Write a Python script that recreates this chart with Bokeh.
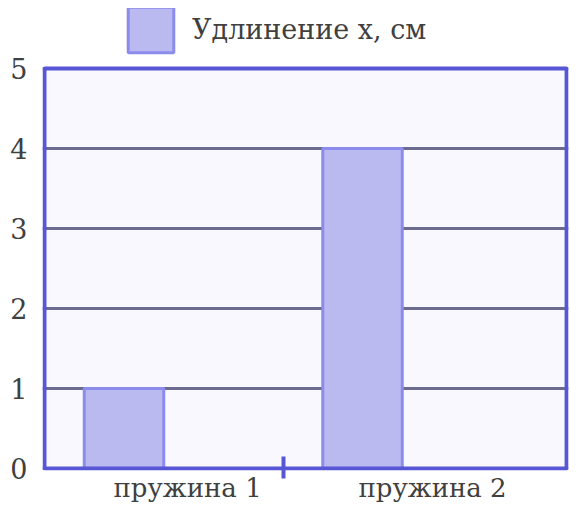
from bokeh.plotting import figure
from bokeh.models import (ColumnDataSource, FixedTicker, Legend, LegendItem, Range1d,
                          BoxAnnotation)
from bokeh.transform import dodge
from bokeh.embed import file_html
from bokeh.resources import INLINE

# ---- data ----
categories = ["пружина 1", "пружина 2"]
elongation = [1, 4]
y_ticks = [0, 1, 2, 3, 4, 5]
series_name = "Удлинение x, см"

# ---- layout helpers ----
idx = list(range(len(categories)))
bar_offset = 1 / 3
bar_width = 1 / 3
label_pos = [0.6, 1.627]
boundary_ticks = [1]
x_box_end = 2.189          # right edge of the framed area
y_box_end = y_ticks[-1]

FONT = "DejaVu Serif"
TEXT = "#404040"
BORDER = "#5656d6"

source = ColumnDataSource(dict(idx=idx, val=elongation))

p = figure(
    width=578, height=516,
    x_range=Range1d(-0.0084, 2.197), y_range=Range1d(-0.025, 5.75),
    output_backend="svg", toolbar_location=None,
    min_border_left=42, min_border_right=10,
    min_border_top=8, min_border_bottom=46,
)
p.background_fill_color = "white"
p.border_fill_color = "white"
p.outline_line_color = None

# plot-area background and frame border
p.add_layout(BoxAnnotation(left=0, right=x_box_end, bottom=0, top=y_box_end,
                           fill_color="#f8f8fe", fill_alpha=1, line_color=None,
                           level="image"))

r = p.vbar(x=dodge("idx", bar_offset, range=p.x_range), top="val", width=bar_width,
           source=source, fill_color="#babaf0", line_color="#8c8cec", line_width=3)

p.add_layout(BoxAnnotation(left=0, right=x_box_end, bottom=0, top=y_box_end,
                           fill_alpha=0, line_color=BORDER, line_width=4,
                           line_alpha=1, level="overlay"))

# x axis
xa = p.xaxis[0]
xa.ticker = FixedTicker(ticks=label_pos, minor_ticks=boundary_ticks)
xa.major_label_overrides = {pos: cat for pos, cat in zip(label_pos, categories)}
xa.axis_line_color = None
xa.major_tick_line_color = None
xa.major_tick_in = 0
xa.major_tick_out = 0
xa.minor_tick_in = 14
xa.minor_tick_out = 8
xa.minor_tick_line_color = BORDER
xa.minor_tick_line_width = 4
xa.major_label_standoff = -6
xa.major_label_text_font = FONT
xa.major_label_text_font_size = "26px"
xa.major_label_text_color = TEXT

# y axis
ya = p.yaxis[0]
ya.ticker = FixedTicker(ticks=y_ticks)
ya.axis_line_color = None
ya.major_tick_line_color = None
ya.minor_tick_line_color = None
ya.major_tick_in = 0
ya.major_tick_out = 0
ya.major_label_standoff = 15
ya.major_label_text_font = FONT
ya.major_label_text_font_size = "27px"
ya.major_label_text_color = TEXT

p.xgrid.grid_line_color = None
p.ygrid.ticker = FixedTicker(ticks=y_ticks)
p.ygrid.grid_line_color = "#6b6b8f"
p.ygrid.grid_line_width = 3

legend = Legend(
    items=[LegendItem(label=series_name, renderers=[r])],
    location=(80, 412),
    glyph_width=57, glyph_height=57,
    label_standoff=13, padding=0, margin=0, spacing=0,
    border_line_color=None, background_fill_alpha=0,
    label_text_font=FONT, label_text_font_size="27px", label_text_color=TEXT,
)
p.add_layout(legend)

open("out.html", "w").write(file_html(p, INLINE))
